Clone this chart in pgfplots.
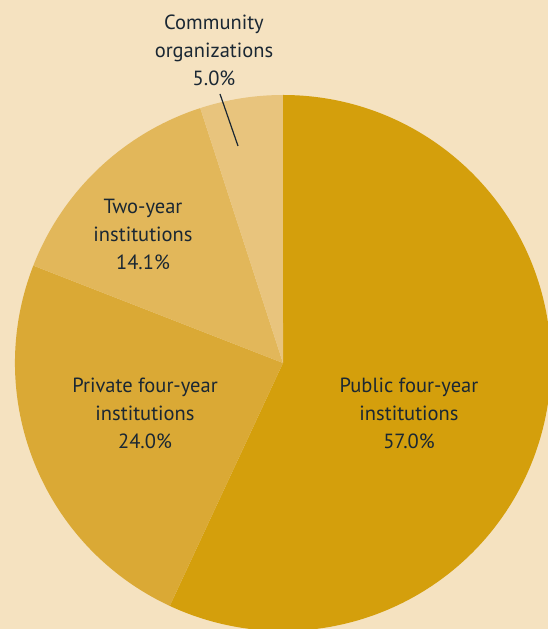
\documentclass[border=0pt]{standalone}
\usepackage{pgfplots}
\usepackage{pgfplotstable}
\usepackage{fontspec}
\setmainfont{PT Sans}
\pgfplotsset{compat=1.18}
\definecolor{bg}{HTML}{F5E2C0}
\definecolor{cA}{HTML}{D49F0C}
\definecolor{cB}{HTML}{DAA935}
\definecolor{cC}{HTML}{E2B75A}
\definecolor{cD}{HTML}{E8C47D}
\definecolor{txt}{HTML}{1A2733}
\pgfplotstableread{
share
57.0
24.0
14.1
5.0
}\piedata
\pgfplotstablegetelem{0}{share}\of\piedata \let\vA\pgfplotsretval
\pgfplotstablegetelem{1}{share}\of\piedata \let\vB\pgfplotsretval
\pgfplotstablegetelem{2}{share}\of\piedata \let\vC\pgfplotsretval
\pgfplotstablegetelem{3}{share}\of\piedata \let\vD\pgfplotsretval
\pgfmathsetmacro{\tot}{\vA+\vB+\vC+\vD}
\pgfmathsetmacro{\aO}{90}
\pgfmathsetmacro{\aA}{\aO-\vA/\tot*360}
\pgfmathsetmacro{\aB}{\aA-\vB/\tot*360}
\pgfmathsetmacro{\aC}{\aB-\vC/\tot*360}
\pgfmathsetmacro{\aD}{\aC-\vD/\tot*360}
\begin{document}%
\begin{tikzpicture}
\begin{axis}[
  scale only axis, width=548pt, height=629pt,
  xmin=0, xmax=548, ymin=0, ymax=629,
  hide axis,
  axis background/.style={fill=bg},
  clip=true,
]
\def\r{268pt}
\fill[cA] (axis cs:283,266) -- ++(\aO:\r) arc[start angle=\aO, end angle=\aA, radius=\r] -- cycle;
\fill[cB] (axis cs:283,266) -- ++(\aA:\r) arc[start angle=\aA, end angle=\aB, radius=\r] -- cycle;
\fill[cC] (axis cs:283,266) -- ++(\aB:\r) arc[start angle=\aB, end angle=\aC, radius=\r] -- cycle;
\fill[cD] (axis cs:283,266) -- ++(\aC:\r) arc[start angle=\aC, end angle=\aD, radius=\r] -- cycle;
\draw[txt, line width=1.2pt] (axis cs:220,535) -- (axis cs:238,483);
\tikzset{lbl/.style={text=txt, align=center, font=\fontsize{20.5}{28}\selectfont, inner sep=0pt}}
\node[lbl] at (axis cs:409,216) {Public four-year\\institutions\\57.0\%};
\node[lbl] at (axis cs:145,216) {Private four-year\\institutions\\24.0\%};
\node[lbl] at (axis cs:143,395) {Two-year\\institutions\\14.1\%};
\node[lbl] at (axis cs:214,579) {Community\\organizations\\5.0\%};
\end{axis}
\end{tikzpicture}%
\end{document}
